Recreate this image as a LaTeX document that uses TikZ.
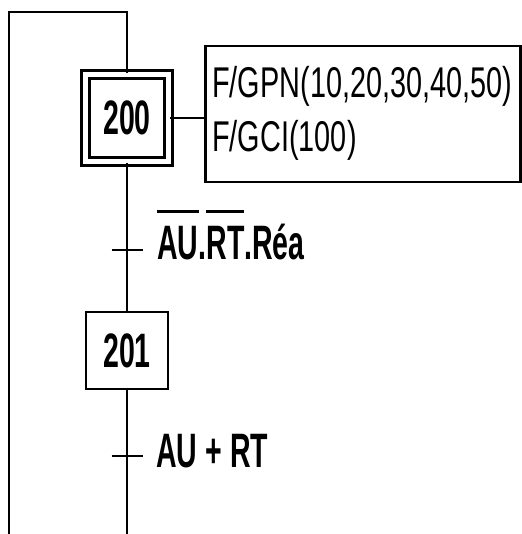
\documentclass[tikz,border=0pt]{standalone}
\usepackage{fontspec}
\setmainfont{Liberation Sans}[FakeStretch=0.59]
\newfontfamily\actfont{Liberation Sans}[FakeStretch=0.67]
\usepackage{tikz}
\usetikzlibrary{positioning}

\newcommand{\taille}{\fontsize{27.5pt}{34pt}\selectfont}
% overline placed high above capitals
\newcommand{\barre}[1]{\setbox0\hbox{#1}\rlap{\rule[26.5pt]{\wd0}{1.7pt}}\box0}

\tikzset{
  etape/.style={draw, line width=1.6pt, minimum width=1.64cm, minimum height=1.54cm, font=\taille\bfseries},
  etapeinit/.style={etape, double, double distance=3.4pt, minimum width=1.66cm, minimum height=1.74cm},
  lien/.style={line width=1.6pt},
  recept/.style={anchor=base west, font=\taille\bfseries, inner sep=0pt},
  action/.style={draw, line width=1.6pt, anchor=west, minimum width=6.3cm, minimum height=2.72cm},
  actiontxt/.style={anchor=base west, inner sep=0pt, font=\actfont\fontsize{24.5pt}{30pt}\selectfont}
}

\begin{document}
\begin{tikzpicture}[font=\taille]
\useasboundingbox (0,0) rectangle (10.42,10.68);
% steps
\node[etapeinit] (e200) at (2.54,8.32) {200};
\node[etape] (e201) at (2.54,3.67) {201};
% actions of step 200
\node[action] (act) at (4.08,8.40) {};
\node[actiontxt] (act1) at (4.24,8.72) {F/GPN(10,20,30,40,50)};
\node[actiontxt] (act2) at (4.24,7.64) {F/GCI(100)};
\draw[lien] (e200.east) -- (e200.east -| act.west);
% transitions
\coordinate (t1) at (2.54,5.68);
\coordinate (t2) at (2.54,1.56);
\draw[lien] ([xshift=-0.31cm]t1) -- ([xshift=0.31cm]t1);
\draw[lien] ([xshift=-0.31cm]t2) -- ([xshift=0.31cm]t2);
\node[recept] (r1) at (3.14,5.48) {\barre{AU}.\barre{RT}.Réa};
\node[recept] (r2) at (3.12,1.32) {AU + RT};
% links
\coordinate (haut) at (2.54,10.44);
\coordinate (coin) at (0.18,10.44);
\coordinate (basg) at (0.18,0);
\coordinate (bas) at (2.54,0);
\draw[lien] (basg) -- (coin) -- (haut) -- (e200.north);
\draw[lien] (e200.south) -- (t1) -- (e201.north);
\draw[lien] (e201.south) -- (t2) -- (bas);
\end{tikzpicture}
\end{document}
